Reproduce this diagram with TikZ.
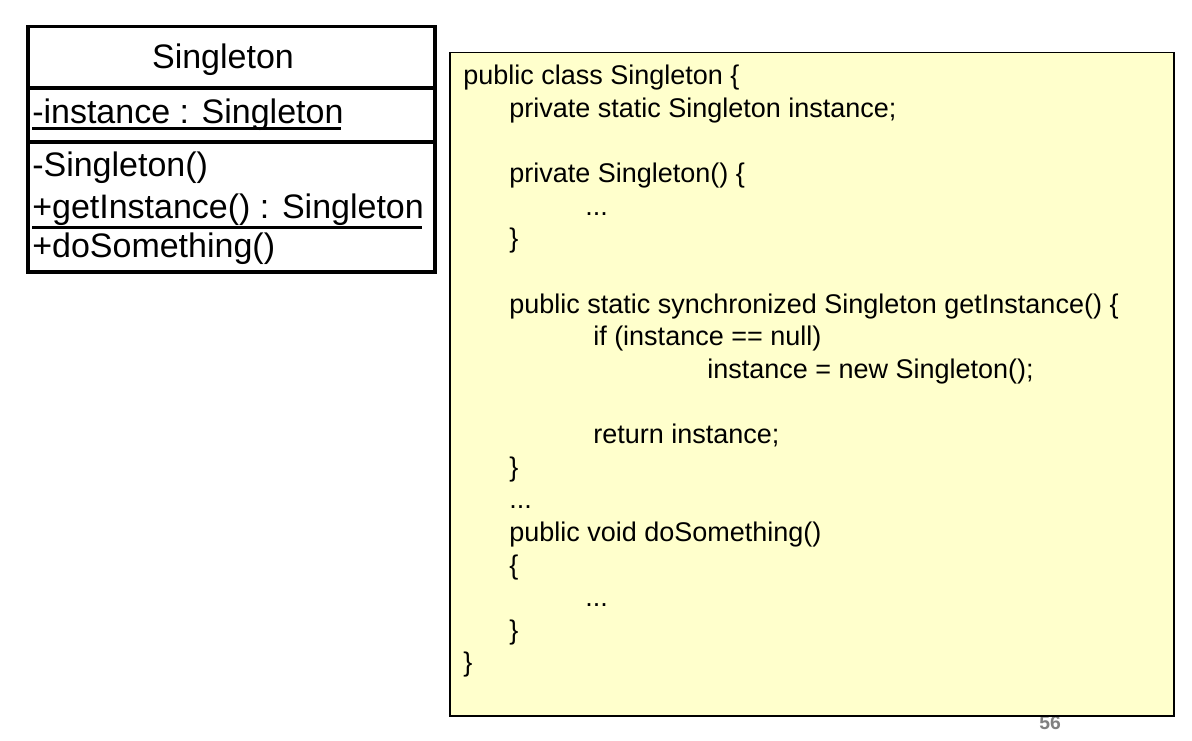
\documentclass[tikz,border=0pt]{standalone}
\usepackage{fontspec}
\setmainfont{Liberation Sans}
\begin{document}
\begin{tikzpicture}[x=0.75pt,y=-0.75pt,
  umlline/.style={line width=2.8pt},
  ulinestyle/.style={line width=2.4pt},
  umltext/.style={anchor=base west,inner sep=0pt,font=\fontsize{25.5pt}{30pt}\selectfont},
  codetext/.style={anchor=base west,inner sep=0pt,font=\fontsize{20.25pt}{24pt}\selectfont},
  codebox/.style={draw=black,line width=1.1pt,fill=codefill}]
\definecolor{codefill}{RGB}{255,255,204}
\definecolor{pagegray}{RGB}{128,128,128}
\useasboundingbox (0,0) rectangle (1192,741);
% page number (behind the box)
\node[anchor=base,inner sep=0pt,text=pagegray,font=\fontsize{14.5pt}{16pt}\selectfont\bfseries] (pagenum) at (1050,729) {56};
% UML class box
\draw[umlline] (27.8,26.5) rectangle (434.9,272.2);
\draw[umlline] (27.8,88.3) -- (434.9,88.3);
\draw[umlline] (27.8,142.3) -- (434.9,142.3);
\node[anchor=base,inner sep=0pt,font=\fontsize{25.5pt}{30pt}\selectfont] (clsname) at (223,68.3) {Singleton};
\node[umltext] (attr) at (32,123.3) {-instance : Singleton};
\draw[ulinestyle] (32,128.3) -- (340.7,128.3);
\node[umltext] (ctor) at (32,176.7) {-Singleton()};
\node[umltext] (getinst) at (32,218.3) {+getInstance() : Singleton};
\draw[ulinestyle] (32,227.3) -- (421.7,227.3);
\node[umltext] (dosome) at (32,257.3) {+doSomething()};
% code box
\draw[codebox] (450,52.3) rectangle (1174,716);
\node[codetext] (c0) at (463,85) {public class Singleton \{};
\node[codetext] (c1) at (509,117.6) {private static Singleton instance;};
\node[codetext] (c3) at (509,182.8) {private Singleton() \{};
\node[codetext] (c4) at (585,215.4) {...};
\node[codetext] (c5) at (509,248) {\}};
\node[codetext] (c7) at (509,313.2) {public static synchronized Singleton getInstance() \{};
\node[codetext] (c8) at (593,345.8) {if (instance == null)};
\node[codetext] (c9) at (707,378.4) {instance = new Singleton();};
\node[codetext] (c11) at (593,443.6) {return instance;};
\node[codetext] (c12) at (509,476.2) {\}};
\node[codetext] (c13) at (509,508.8) {...};
\node[codetext] (c14) at (509,541.4) {public void doSomething()};
\node[codetext] (c15) at (509,574) {\{};
\node[codetext] (c16) at (585,606.6) {...};
\node[codetext] (c17) at (509,639.2) {\}};
\node[codetext] (c18) at (463,671.8) {\}};
\end{tikzpicture}
\end{document}
